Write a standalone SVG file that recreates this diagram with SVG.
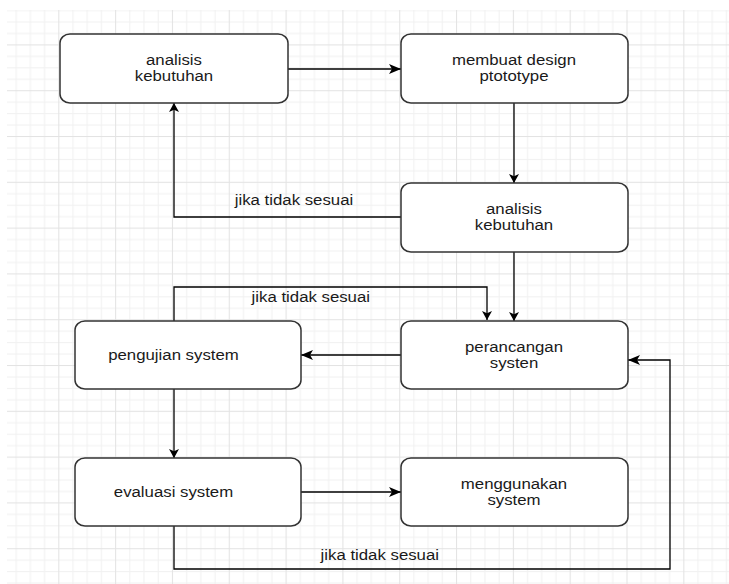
<svg xmlns="http://www.w3.org/2000/svg" width="729" height="584" viewBox="0 0 729 584">
  <defs>
    <!-- background grid: minor lines every 14.2 x 11.45, major every fourth -->
    <pattern id="grid" patternUnits="userSpaceOnUse" x="58.3" y="136" width="56.82" height="45.8">
      <rect x="0" y="0" width="56.82" height="45.8" fill="#ffffff"/>
      <g fill="#f1f1f1">
        <rect x="14.2" y="0" width="1" height="45.8"/>
        <rect x="28.4" y="0" width="1" height="45.8"/>
        <rect x="42.6" y="0" width="1" height="45.8"/>
        <rect x="0" y="11.45" width="56.82" height="1"/>
        <rect x="0" y="22.9" width="56.82" height="1"/>
        <rect x="0" y="34.35" width="56.82" height="1"/>
      </g>
      <g fill="#e3e3e3">
        <rect x="0" y="0" width="1" height="45.8"/>
        <rect x="0" y="0" width="56.82" height="1"/>
      </g>
    </pattern>
    <marker id="ah" viewBox="0 0 12 10" refX="12" refY="5" markerWidth="12" markerHeight="10" markerUnits="userSpaceOnUse" orient="auto">
      <path d="M0,0 L12,5 L0,10 L3,5 Z" fill="#000"/>
    </marker>
    <marker id="av" viewBox="0 0 9 10" refX="9" refY="5" markerWidth="9" markerHeight="10" markerUnits="userSpaceOnUse" orient="auto">
      <path d="M0,0 L9,5 L0,10 L2.2,5 Z" fill="#000"/>
    </marker>
    <style>
      .box { fill: #ffffff; stroke: #333333; stroke-width: 1.5; }
      .edge { fill: none; stroke: #000000; stroke-width: 1.3; }
      .lbl { font-family: "Liberation Sans", Arial, sans-serif; font-size: 15px; fill: #1a1a1a; text-anchor: middle; }
    </style>
  </defs>

  <rect x="0" y="0" width="729" height="584" fill="#ffffff"/>
  <rect x="7" y="10" width="722" height="574" fill="url(#grid)"/>

  <!-- connectors -->
  <g id="connectors">
    <path class="edge" d="M288,69 L401,69" marker-end="url(#ah)"/>
    <path class="edge" d="M514,103 L514,183" marker-end="url(#av)"/>
    <path class="edge" d="M401,217 L174,217 L174,103" marker-end="url(#av)"/>
    <path class="edge" d="M514,252 L514,321" marker-end="url(#av)"/>
    <path class="edge" d="M401,355 L301,355" marker-end="url(#ah)"/>
    <path class="edge" d="M174,321 L174,287 L487,287 L487,320" marker-end="url(#av)"/>
    <path class="edge" d="M174,389 L174,458" marker-end="url(#av)"/>
    <path class="edge" d="M301,492 L401,492" marker-end="url(#ah)"/>
    <path class="edge" d="M174,526 L174,569 L670,569 L670,360 L628,360" marker-end="url(#ah)"/>
    <text class="lbl" transform="scale(1.12 1)" x="262.5" y="205">jika tidak sesuai</text>
    <text class="lbl" transform="scale(1.12 1)" x="277.5" y="302">jika tidak sesuai</text>
    <text class="lbl" transform="scale(1.12 1)" x="339.1" y="560">jika tidak sesuai</text>
  </g>

  <g id="analisis-kebutuhan-1">
    <rect class="box" x="60" y="34" width="228" height="69" rx="10" ry="9"/>
    <text class="lbl" transform="scale(1.12 1)" x="155.36" y="65">analisis</text>
    <text class="lbl" transform="scale(1.12 1)" x="155.36" y="81.5">kebutuhan</text>
  </g>

  <g id="membuat-design">
    <rect class="box" x="401" y="34" width="227" height="69" rx="10" ry="9"/>
    <text class="lbl" transform="scale(1.12 1)" x="458.93" y="65">membuat design</text>
    <text class="lbl" transform="scale(1.12 1)" x="458.93" y="81.5">ptototype</text>
  </g>

  <g id="analisis-kebutuhan-2">
    <rect class="box" x="401" y="183" width="227" height="69" rx="10" ry="9"/>
    <text class="lbl" transform="scale(1.12 1)" x="458.93" y="214">analisis</text>
    <text class="lbl" transform="scale(1.12 1)" x="458.93" y="230.5">kebutuhan</text>
  </g>

  <g id="pengujian-system">
    <rect class="box" x="75" y="321" width="226" height="68" rx="10" ry="9"/>
    <text class="lbl" transform="scale(1.12 1)" x="154.9" y="360">pengujian system</text>
  </g>

  <g id="perancangan-systen">
    <rect class="box" x="401" y="321" width="227" height="68" rx="10" ry="9"/>
    <text class="lbl" transform="scale(1.12 1)" x="458.93" y="352">perancangan</text>
    <text class="lbl" transform="scale(1.12 1)" x="458.93" y="368.5">systen</text>
  </g>

  <g id="evaluasi-system">
    <rect class="box" x="75" y="458" width="226" height="68" rx="10" ry="9"/>
    <text class="lbl" transform="scale(1.12 1)" x="154.9" y="497">evaluasi system</text>
  </g>

  <g id="menggunakan-system">
    <rect class="box" x="401" y="458" width="227" height="68" rx="10" ry="9"/>
    <text class="lbl" transform="scale(1.12 1)" x="458.93" y="489">menggunakan</text>
    <text class="lbl" transform="scale(1.12 1)" x="458.93" y="505.5">system</text>
  </g>
</svg>
